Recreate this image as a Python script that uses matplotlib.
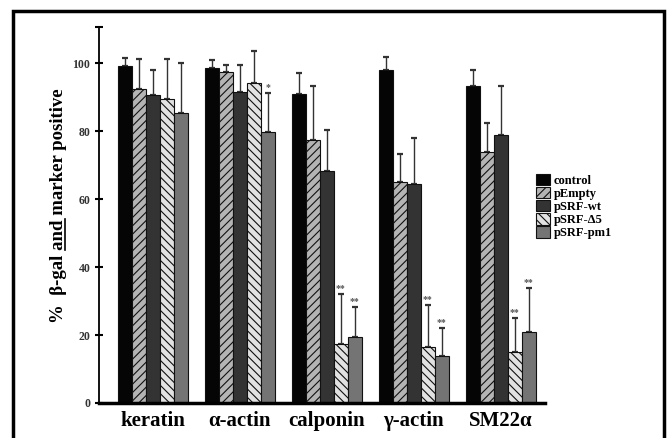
import matplotlib.pyplot as plt
import matplotlib
import numpy as np
from matplotlib.patches import Rectangle
from matplotlib.lines import Line2D

matplotlib.rcParams['font.family'] = ['Liberation Serif', 'DejaVu Serif']
matplotlib.rcParams['font.weight'] = 'bold'
matplotlib.rcParams['axes.labelweight'] = 'bold'
matplotlib.rcParams['hatch.linewidth'] = 0.8

markers = ['keratin', '\u03b1-actin', 'calponin', '\u03b3-actin', 'SM22\u03b1']
series = ['control', 'pEmpty', 'pSRF-wt', 'pSRF-\u03945', 'pSRF-pm1']

control = [99.3, 98.6, 90.8, 97.9, 93.2]
control_err = [2.3, 2.3, 6.3, 4.0, 4.7]
pempty = [92.4, 97.4, 77.4, 65.1, 73.9]
pempty_err = [8.7, 2.0, 15.8, 8.2, 8.5]
srf_wt = [90.5, 91.6, 68.2, 64.5, 79.0]
srf_wt_err = [7.4, 8.0, 12.0, 13.5, 14.4]
srf_d5 = [89.5, 94.2, 17.3, 16.5, 15.1]
srf_d5_err = [11.6, 9.3, 14.8, 12.3, 10.0]
srf_pm1 = [85.4, 79.8, 19.5, 13.8, 20.9]
srf_pm1_err = [14.7, 11.5, 8.7, 8.3, 13.0]

stars_d5 = ['', '', '**', '**', '**']
stars_pm1 = ['', '*', '**', '**', '**']

values = [control, pempty, srf_wt, srf_d5, srf_pm1]
errors = [control_err, pempty_err, srf_wt_err, srf_d5_err, srf_pm1_err]
stars = [None, None, None, stars_d5, stars_pm1]
faces = ['#050505', '#b4b4b4', '#333333', '#e2e2e2', '#747474']
hatches = [None, '////', None, '\\\\\\\\', None]

fig = plt.figure(figsize=(6.72, 4.38), dpi=100)
ax = fig.add_axes([0.147, 0.080, 0.664, 0.858])

x = np.arange(len(markers))
w = 0.161
for i in range(len(series)):
    xpos = x + (i - 2) * w
    ax.bar(xpos, values[i], w, color=faces[i], edgecolor='#111111', linewidth=0.8,
           hatch=hatches[i], label=series[i], zorder=2)
    ax.errorbar(xpos, values[i], yerr=[np.zeros(len(markers)), errors[i]], fmt='none',
                ecolor='#333333', elinewidth=1.0, capsize=2.2, capthick=1.6, zorder=1)
    if stars[i] is not None:
        for j in range(len(markers)):
            if stars[i][j]:
                ax.text(xpos[j], values[i][j] + errors[i][j] + 0.3, stars[i][j],
                        ha='center', va='bottom', fontsize=7, color='#555555')

ax.set_xlim(-0.62, 4.51)
ax.set_ylim(0, 110.6)
ax.set_yticks([0, 20, 40, 60, 80, 100, 110.6])
ax.set_yticklabels(['0', '20', '40', '60', '80', '100', ''])
ax.tick_params(axis='y', direction='inout', length=6, width=1.5, labelsize=8.5,
               labelcolor='#333333', pad=3)
ax.set_xticks(x)
ax.set_xticklabels(markers, fontsize=15)
ax.tick_params(axis='x', length=0, pad=6)
ax.spines['top'].set_visible(False)
ax.spines['right'].set_visible(False)
ax.spines['left'].set_linewidth(1.3)
ax.spines['bottom'].set_linewidth(2.5)

label_size = 13.5
ax.set_ylabel('%  \u03b2-gal and marker positive', fontsize=label_size, fontweight='bold')
ax.yaxis.set_label_coords(-0.072, 0.525)

ax.legend(loc='upper left', bbox_to_anchor=(0.98, 0.61), frameon=False, fontsize=9,
          labelspacing=0.0, handlelength=1.15, handleheight=1.05, handletextpad=0.25,
          borderpad=0, borderaxespad=0)

fig.add_artist(Rectangle((0.02, -0.1), 0.968, 1.075, transform=fig.transFigure,
                         fill=False, edgecolor='black', linewidth=2.5))

# underline "and" in the y label
fig.canvas.draw()
r = fig.canvas.get_renderer()
lb = ax.yaxis.label.get_window_extent(r)
tmp1 = fig.text(0, 0, '%  \u03b2-gal and', fontsize=label_size, fontweight='bold')
tmp2 = fig.text(0, 0, 'and', fontsize=label_size, fontweight='bold')
w_pre = tmp1.get_window_extent(r).width
w_and = tmp2.get_window_extent(r).width
tmp1.remove()
tmp2.remove()
W, H = fig.canvas.get_width_height()
y_start = (lb.y0 + w_pre - w_and) / H
y_end = (lb.y0 + w_pre) / H
ux = (lb.x1 - 2.0) / W
fig.add_artist(Line2D([ux, ux], [y_start, y_end], transform=fig.transFigure,
                      color='black', linewidth=1.2))

fig.savefig('out.png', dpi=100)
